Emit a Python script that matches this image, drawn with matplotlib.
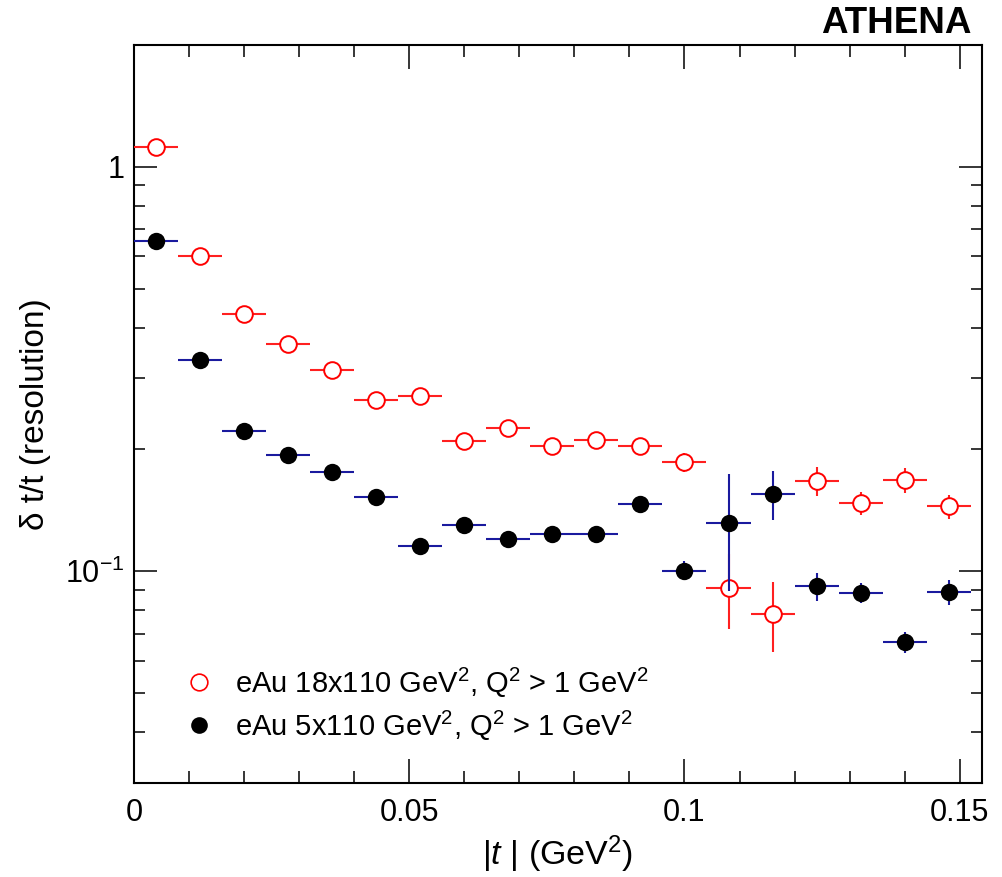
import numpy as np
import matplotlib
matplotlib.use("Agg")
import matplotlib.pyplot as plt
from matplotlib.lines import Line2D
from matplotlib.ticker import (FixedLocator, LogLocator, FuncFormatter,
                               NullFormatter, MultipleLocator)

plt.rcParams['font.family'] = ['Liberation Sans', 'DejaVu Sans']
plt.rcParams['mathtext.fontset'] = 'custom'
plt.rcParams['mathtext.rm'] = 'Liberation Sans'
plt.rcParams['mathtext.it'] = 'Liberation Sans:italic'
plt.rcParams['mathtext.bf'] = 'Liberation Sans:bold'

# |t| bin centres (GeV^2) and half bin width
t_centers = [0.004, 0.012, 0.020, 0.028, 0.036, 0.044, 0.052, 0.060, 0.068, 0.076,
             0.084, 0.092, 0.100, 0.108, 0.116, 0.124, 0.132, 0.140, 0.148]
t_halfwidth = 0.004

# eAu 18x110 resolution and uncertainty
res_18x110 = [1.12, 0.603, 0.432, 0.365, 0.315, 0.2655, 0.271, 0.2094, 0.226, 0.2035,
              0.2114, 0.2035, 0.186, 0.091, 0.0786, 0.1668, 0.1475, 0.168, 0.1447]
err_18x110 = [0.012, 0.006, 0.004, 0.004, 0.004, 0.004, 0.004, 0.004, 0.004, 0.004,
              0.004, 0.005, 0.0105, 0.0192, 0.0155, 0.0137, 0.0097, 0.0115, 0.0098]

# eAu 5x110 resolution and uncertainty
res_5x110 = [0.655, 0.332, 0.2217, 0.1934, 0.1755, 0.1529, 0.1157, 0.1303, 0.1202, 0.1234,
             0.1236, 0.1467, 0.1004, 0.1316, 0.1553, 0.0918, 0.0885, 0.0668, 0.0889]
err_5x110 = [0.006, 0.003, 0.002, 0.002, 0.002, 0.002, 0.002, 0.002, 0.002, 0.002,
             0.002, 0.003, 0.0053, 0.042, 0.0212, 0.0074, 0.0052, 0.0039, 0.0065]

label_18 = r"eAu 18x110 GeV$^{2}$, Q$^{2}$ > 1 GeV$^{2}$"
label_5 = r"eAu 5x110 GeV$^{2}$, Q$^{2}$ > 1 GeV$^{2}$"

fig = plt.figure(figsize=(10.03, 8.77), dpi=100)
ax = fig.add_axes([0.1336, 0.1075, 0.9788 - 0.1336, 0.9487 - 0.1075])

ax.errorbar(t_centers, res_18x110, xerr=t_halfwidth, yerr=err_18x110,
            fmt='o', color='#ff0000', ecolor='#ff2020', elinewidth=1.5,
            capsize=0, ms=12, mfc='white', mec='#ff0000', mew=1.4, zorder=3)
ax.errorbar(t_centers, res_5x110, xerr=t_halfwidth, yerr=err_5x110,
            fmt='o', color='black', ecolor='#1a1a9e', elinewidth=1.5,
            capsize=0, ms=12.5, mfc='black', mec='black', mew=0, zorder=4)

ax.set_yscale('log')
ax.set_xlim(0, 0.154)
ax.set_ylim(0.03, 2.0)

ax.xaxis.set_major_locator(FixedLocator([0, 0.05, 0.1, 0.15]))
ax.xaxis.set_minor_locator(MultipleLocator(0.01))
ax.xaxis.set_major_formatter(FuncFormatter(lambda v, p: {0: '0', 0.05: '0.05', 0.1: '0.1', 0.15: '0.15'}.get(round(v, 3), '')))

ax.yaxis.set_major_locator(FixedLocator([0.1, 1.0]))
ax.yaxis.set_minor_locator(LogLocator(base=10, subs=np.arange(2, 10), numticks=20))
ax.yaxis.set_major_formatter(FuncFormatter(lambda v, p: '1' if abs(v - 1) < 1e-9 else r'$10^{-1}$'))
ax.yaxis.set_minor_formatter(NullFormatter())

for s in ax.spines.values():
    s.set_linewidth(1.5)

ax.tick_params(which='both', direction='in', top=True, right=True, width=1.1, colors='black')
ax.tick_params(axis='x', which='major', length=17, labelsize=22, pad=11)
ax.tick_params(axis='x', which='minor', length=8.5)
ax.tick_params(axis='y', which='major', length=16.5, labelsize=22, pad=7)
ax.tick_params(axis='y', which='minor', length=8)

ax.set_xlabel(r"|$t$ | (GeV$^{2}$)", fontsize=24.5, labelpad=4)
ax.set_ylabel("δ t/t (resolution)", fontsize=24, labelpad=10)

fig.text(0.969, 0.973, "ATHENA", fontsize=26.5, fontweight='bold', ha='right', va='center')

handles = [
    Line2D([], [], ls='none', marker='o', ms=12, mfc='white', mec='#ff0000', mew=1.2),
    Line2D([], [], ls='none', marker='o', ms=12, mfc='black', mec='black', mew=0),
]
leg = ax.legend(handles, [label_18, label_5], loc='upper left',
                bbox_to_anchor=(0.0595, 0.159), frameon=False, fontsize=21,
                handlelength=1.0, handletextpad=0.73, labelspacing=0.3,
                borderaxespad=0, borderpad=0)

fig.savefig("out.png", dpi=100)
